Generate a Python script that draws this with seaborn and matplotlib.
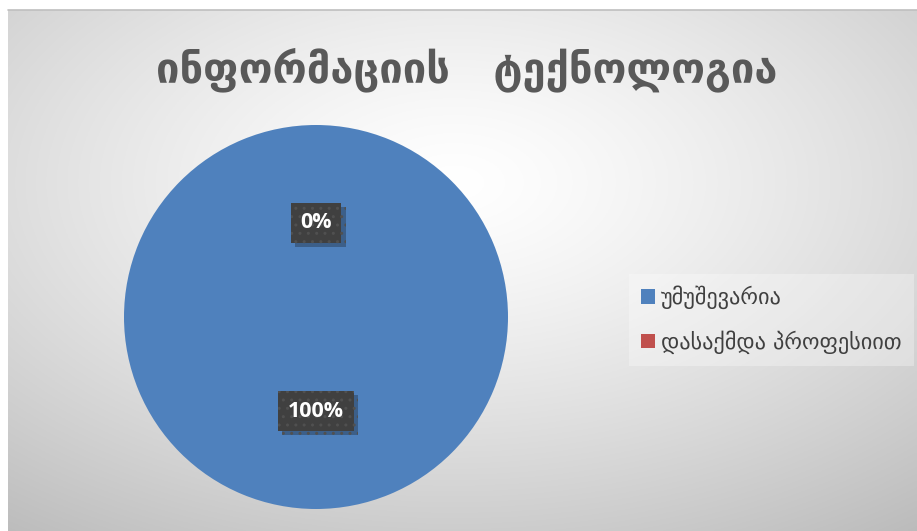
import numpy as np
import matplotlib.pyplot as plt
import matplotlib.patheffects as pe
import seaborn as sns

# data
categories = ['უმუშევარია', 'დასაქმდა პროფესიით']
values = [100, 0]
title = 'ინფორმაციის   ტექნოლოგია'

sns.set_style('white')
plt.rcParams['font.family'] = ['DejaVu Sans']
colors = ['#4F81BD', '#C0504D']

W, H = 917, 531
fig = plt.figure(figsize=(W / 100, H / 100), dpi=100)
fig.patch.set_facecolor('white')

# background: radial grey gradient over the chart area
bg = fig.add_axes([8 / W, 0, (W - 8) / W, (H - 10) / H])
yy, xx = np.mgrid[0:300, 0:500]
cx, cy = 250 * 0.98, 300 * 0.33
r = np.sqrt(((xx - cx) / 500) ** 2 + ((yy - cy) / 300) ** 2)
g = 1.0 - 0.27 * np.clip(r / 0.85, 0, 1) ** 1.3
bg.imshow(np.dstack([g, g, g]), aspect='auto', extent=[0, 1, 0, 1])
bg.set_xlim(0, 1)
bg.set_ylim(0, 1)
bg.axis('off')
bg.plot([0, 1], [1, 1], color='#bfbfbf', lw=1.2, transform=bg.transAxes, clip_on=False)

# pie
cxp, cyp, rad = 316, 317, 192
ax = fig.add_axes([(cxp - rad) / W, (H - cyp - rad) / H, 2 * rad / W, 2 * rad / H])
wedges, texts, autotexts = ax.pie(
    values, colors=colors, startangle=90, counterclock=False,
    autopct='%1.0f%%', pctdistance=0.49,
    wedgeprops=dict(linewidth=0),
    textprops=dict(color='white', fontsize=15.5, fontweight='bold', family='Open Sans'))
for t in autotexts:
    t.set_bbox(dict(boxstyle='square,pad=0.45', facecolor='#404040',
                    edgecolor='#505050', hatch='..', linewidth=0,
                    path_effects=[pe.SimplePatchShadow(offset=(3, -3), alpha=0.3),
                                  pe.Normal()]))
ax.set_xlim(-1, 1)
ax.set_ylim(-1, 1)
ax.axis('off')

# title
fig.text(467 / W, 1 - 70 / H, title, ha='center', va='center',
         fontsize=30, fontweight='bold', color='#595959')

# legend
leg = fig.legend(wedges, categories, loc='center left',
                 bbox_to_anchor=(618 / W, 1 - 320 / H),
                 fontsize=16, frameon=True, fancybox=False,
                 handlelength=0.6, handleheight=0.6, handletextpad=0.3,
                 labelspacing=0.95, borderpad=0.55, labelcolor='#404040')
leg.get_frame().set_facecolor('white')
leg.get_frame().set_alpha(0.3)
leg.get_frame().set_linewidth(0)

fig.savefig('out.png', dpi=100)
